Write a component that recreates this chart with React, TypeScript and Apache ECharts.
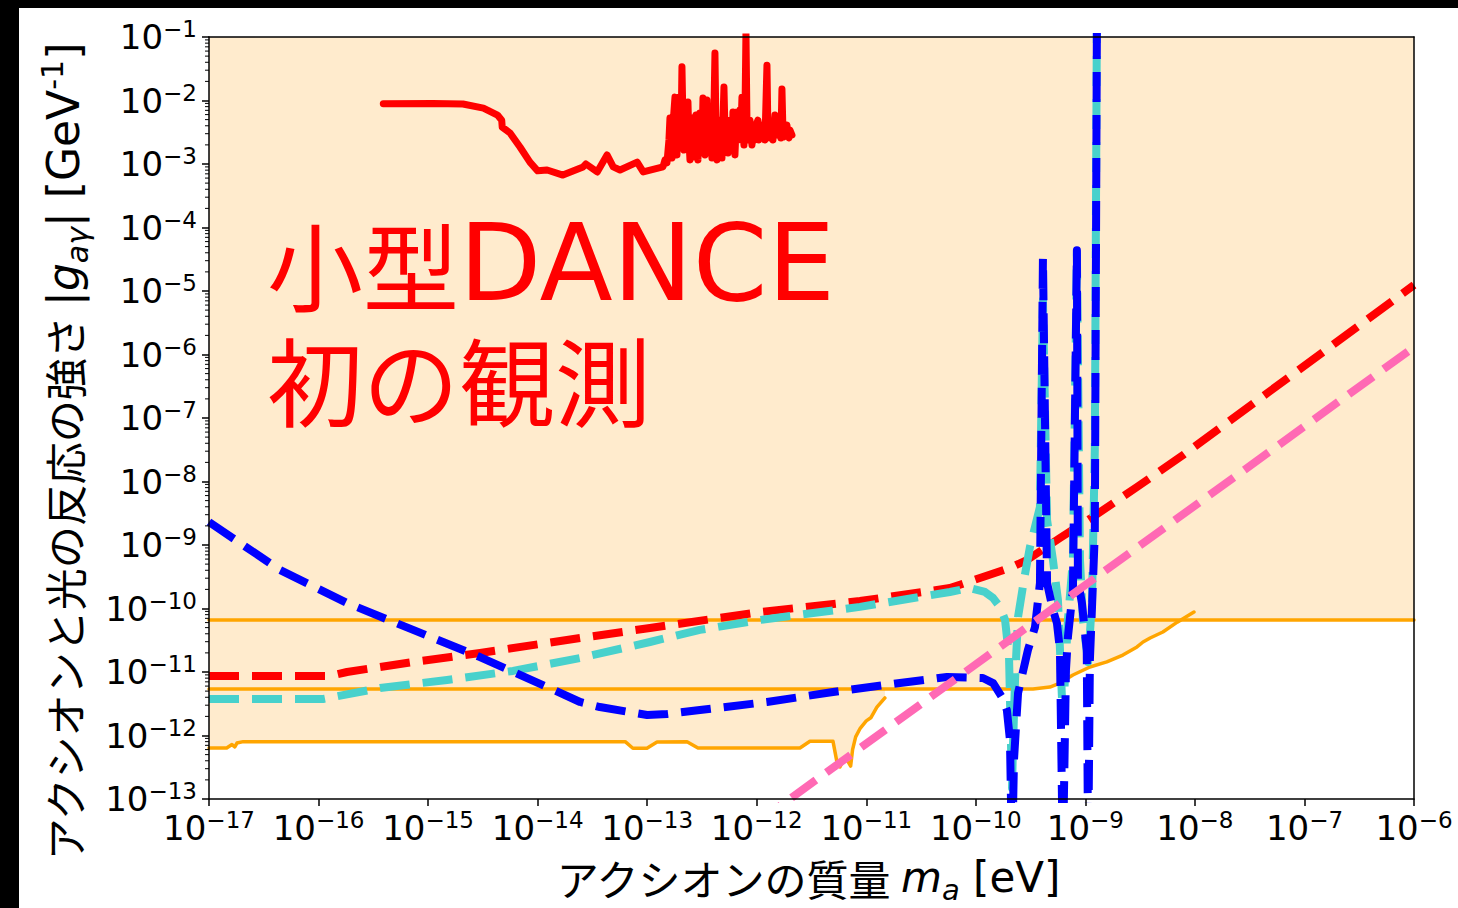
import React, { useEffect, useRef } from "react";
import * as echarts from "echarts";

const X_MIN = 1e-17;
const X_MAX = 1e-6;
const Y_MIN = 1e-13;
const Y_MAX = 1e-1;

// DANCE first observation (solid red), [mass eV, g GeV^-1]
const DANCE_RESULT: [number, number][] = [
  [3.9e-16, 8.9e-3], [1.11e-15, 9.0e-3], [2.08e-15, 8.8e-3], [3.2e-15, 7.6e-3], [4.3e-15, 5.9e-3],
  [4.7e-15, 4.9e-3], [4.75e-15, 3.8e-3], [5.6e-15, 3.08e-3], [6.9e-15, 1.85e-3], [8.5e-15, 1.07e-3],
  [1.0e-14, 7.8e-4], [1.22e-14, 8.05e-4], [1.7e-14, 6.7e-4], [2.6e-14, 9.0e-4], [2.76e-14, 1.0e-3],
  [3.5e-14, 7.5e-4], [4.3e-14, 1.39e-3], [4.9e-14, 9.0e-4], [5.65e-14, 8.05e-4], [8.1e-14, 1.07e-3],
  [9.2e-14, 7.5e-4], [1.393e-13, 9.0e-4], [1.453e-13, 1.16e-3], [1.515e-13, 1.04e-3], [1.58e-13, 2.39e-3],
  [1.614e-13, 5.3e-3], [1.648e-13, 1.66e-3], [1.683e-13, 1.24e-3], [1.719e-13, 4.1e-3], [1.793e-13, 1.13e-2],
  [1.831e-13, 2.39e-3], [1.87e-13, 1.39e-3], [1.909e-13, 4.9e-3], [1.95e-13, 1.13e-2], [1.991e-13, 3.43e-3],
  [2.034e-13, 2.39e-3], [2.077e-13, 3.4e-2], [2.121e-13, 4.9e-3], [2.166e-13, 1.66e-3], [2.212e-13, 4.1e-3],
  [2.259e-13, 7.1e-3], [2.307e-13, 3.43e-3], [2.356e-13, 9.5e-3], [2.406e-13, 2.39e-3], [2.457e-13, 1.16e-3],
  [2.51e-13, 3.43e-3], [2.563e-13, 5.3e-3], [2.617e-13, 1.29e-3], [2.673e-13, 3.43e-3], [2.73e-13, 4.9e-3],
  [2.788e-13, 5.9e-3], [2.847e-13, 1.99e-3], [2.907e-13, 1.16e-3], [2.969e-13, 3.43e-3], [3.032e-13, 6.35e-3],
  [3.097e-13, 2.39e-3], [3.162e-13, 1.66e-3], [3.23e-13, 1.09e-2], [3.298e-13, 3.43e-3], [3.368e-13, 1.39e-3],
  [3.44e-13, 4.9e-3], [3.513e-13, 1.02e-2], [3.588e-13, 2.39e-3], [3.664e-13, 4.1e-3], [3.742e-13, 7.9e-3],
  [3.821e-13, 2.39e-3], [3.902e-13, 1.24e-3], [3.985e-13, 3.43e-3], [4.07e-13, 7.1e-3], [4.156e-13, 5.6e-2],
  [4.245e-13, 3.43e-3], [4.335e-13, 1.16e-3], [4.427e-13, 2.39e-3], [4.521e-13, 4.1e-3], [4.617e-13, 4.9e-3],
  [4.715e-13, 1.99e-3], [4.815e-13, 1.24e-3], [4.918e-13, 4.9e-3], [5.022e-13, 1.63e-2], [5.129e-13, 3.43e-3],
  [5.238e-13, 1.66e-3], [5.349e-13, 2.86e-3], [5.463e-13, 1.49e-3], [5.579e-13, 3.43e-3], [5.697e-13, 4.9e-3],
  [5.818e-13, 2.39e-3], [5.942e-13, 1.66e-3], [6.068e-13, 6.6e-3], [6.197e-13, 2.86e-3], [6.328e-13, 1.39e-3],
  [6.463e-13, 3.43e-3], [6.6e-13, 6.6e-3], [6.74e-13, 2.39e-3], [6.884e-13, 4.1e-3], [7.03e-13, 7.1e-3],
  [7.179e-13, 3.43e-3], [7.332e-13, 1.13e-2], [7.488e-13, 3.43e-3], [7.645e-13, 1.99e-3], [7.808e-13, 5.9e-3],
  [7.974e-13, 0.12], [8.143e-13, 4.9e-3], [8.316e-13, 3.43e-3], [8.493e-13, 2.39e-3], [8.673e-13, 4.9e-3],
  [8.857e-13, 2.86e-3], [9.045e-13, 1.99e-3], [9.237e-13, 3.43e-3], [9.634e-13, 2.39e-3], [9.838e-13, 4.1e-3],
  [1.026e-12, 4.9e-3], [1.048e-12, 2.39e-3], [1.07e-12, 2.66e-3], [1.116e-12, 3.69e-3], [1.14e-12, 4.1e-3],
  [1.189e-12, 2.39e-3], [1.24e-12, 3.6e-2], [1.266e-12, 3.08e-3], [1.32e-12, 2.57e-3], [1.348e-12, 4.1e-3],
  [1.406e-12, 2.39e-3], [1.436e-12, 3.69e-3], [1.467e-12, 5.9e-3], [1.498e-12, 3.43e-3], [1.562e-12, 2.86e-3],
  [1.595e-12, 4.1e-3], [1.629e-12, 4.9e-3], [1.664e-12, 2.57e-3], [1.699e-12, 1.52e-2], [1.735e-12, 3.43e-3],
  [1.772e-12, 2.66e-3], [1.848e-12, 3.69e-3], [1.887e-12, 4.1e-3], [1.928e-12, 2.86e-3], [1.968e-12, 2.57e-3],
  [2.01e-12, 3.43e-3], [2.097e-12, 2.86e-3],
];

// red dashed
const RED_DASHED: [number, number][] = [
  [1e-17, 8.65e-12], [1.27e-16, 8.65e-12], [1.82e-16, 1.0e-11], [7.3e-16, 1.44e-11], [2.98e-15, 1.99e-11],
  [2.44e-14, 3.43e-11], [1.06e-13, 4.93e-11], [1.07e-12, 8.8e-11], [8.75e-12, 1.31e-10], [5.8e-11, 2.1e-10],
  [1.16e-10, 3.13e-10], [2.05e-10, 4.35e-10], [2.93e-10, 5.8e-10], [5.86e-10, 1.29e-9], [1.17e-9, 2.76e-9],
  [2.96e-9, 8.2e-9], [7.8e-9, 2.61e-8], [1e-6, 1.24e-5],
];

// turquoise dashed
const CYAN_DASHED: [number, number][] = [
  [1e-17, 3.76e-12], [1.1e-16, 3.76e-12], [3.64e-16, 5.6e-12], [1.49e-15, 7.5e-12], [5.96e-15, 1.04e-11],
  [2.44e-14, 1.66e-11], [1.06e-13, 2.97e-11], [3.03e-13, 4.6e-11], [1.07e-12, 6.6e-11], [8.75e-12, 1.06e-10],
  [5.8e-11, 1.82e-10], [8.85e-11, 2.1e-10], [1.21e-10, 1.82e-10], [1.44e-10, 1.46e-10], [1.66e-10, 1.06e-10],
  [1.85e-10, 6.6e-11], [2.01e-10, 1.72e-11], [2.1e-10, 5.9e-13], [2.14e-10, 1.49e-13], [2.18e-10, 5.9e-13],
  [2.28e-10, 7.5e-12], [2.43e-10, 7.35e-11], [2.75e-10, 2.81e-10], [3.12e-10, 9.3e-10], [3.85e-10, 3.97e-9],
  [4.1e-10, 7.2e-6], [4.47e-10, 2.48e-9], [5.06e-10, 5.8e-10], [5.62e-10, 1.36e-10], [6.23e-10, 1.75e-12],
  [6.93e-10, 6.6e-11], [7.7e-10, 5.8e-10], [8.37e-10, 3.96e-5], [8.93e-10, 5.8e-10], [9.5e-10, 6.6e-11],
  [1.06e-9, 1.44e-11], [1.15e-9, 1.36e-10], [1.22e-9, 3.13e-8], [1.28e-9, 1],
];

// blue dashed
const BLUE_DASHED: [number, number][] = [
  [1e-17, 2.3e-9], [4.45e-17, 4.04e-10], [1.82e-16, 1.22e-10], [7.3e-16, 4.6e-11], [2.98e-15, 1.72e-11],
  [1.22e-14, 5.8e-12], [2.44e-14, 3.37e-12], [3.7e-14, 2.81e-12], [1.0e-13, 2.1e-12], [1.52e-13, 2.18e-12],
  [3.03e-13, 2.52e-12], [1.24e-12, 3.37e-12], [4.97e-12, 4.84e-12], [2.03e-11, 6.7e-12], [5.46e-11, 8.35e-12],
  [1.16e-10, 8.05e-12], [1.44e-10, 6.7e-12], [1.73e-10, 4.04e-12], [1.92e-10, 2.52e-12], [2.05e-10, 8.5e-13],
  [2.14e-10, 1e-14], [2.23e-10, 4.1e-13], [2.43e-10, 4.67e-12], [2.99e-10, 2.22e-11], [3.47e-10, 5.1e-11],
  [3.85e-10, 2.52e-10], [4.1e-10, 3.3e-5], [4.47e-10, 2.52e-10], [5.06e-10, 9.5e-11], [5.5e-10, 5.9e-11],
  [5.86e-10, 2.22e-11], [6.23e-10, 1e-14], [6.65e-10, 1.07e-11], [6.93e-10, 3.56e-11], [7.7e-10, 1.95e-10],
  [8.37e-10, 4.4e-5], [8.55e-10, 2.81e-10], [9.3e-10, 1.22e-10], [1.03e-9, 2.22e-11], [1.06e-9, 1e-14],
  [1.1e-9, 1.55e-11], [1.15e-9, 1.06e-10], [1.22e-9, 1.55e-9], [1.28e-9, 1],
];

// pink dashed
const PINK_DASHED: [number, number][] = [
  [1e-12, 4.2e-14], [1e-6, 1.31e-6],
];

// orange limits
const ORANGE_TOP: [number, number][] = [
  [1e-17, 6.6e-11], [1e-6, 6.6e-11],
];
const ORANGE_MID: [number, number][] = [
  [1e-17, 5.4e-12], [3.33e-10, 5.4e-12], [4.75e-10, 5.8e-12], [5.86e-10, 6.7e-12], [7.7e-10, 8.97e-12],
  [1.1e-9, 1.2e-11], [1.57e-9, 1.44e-11], [2.2e-9, 1.85e-11], [2.96e-9, 2.48e-11], [3.36e-9, 2.97e-11],
  [3.9e-9, 3.43e-11], [5.1e-9, 4.27e-11], [6.9e-9, 6.1e-11], [9.8e-9, 8.8e-11],
];
const ORANGE_LOW: [number, number][] = [
  [1e-17, 6.35e-13], [1.45e-17, 6.35e-13], [1.62e-17, 7.2e-13], [1.72e-17, 6.6e-13], [1.8e-17, 7.6e-13],
  [2.05e-17, 8.0e-13], [6.3e-14, 8.0e-13], [7.4e-14, 6.3e-13], [9.95e-14, 6.3e-13], [1.23e-13, 7.9e-13],
  [2.31e-13, 8.0e-13], [2.91e-13, 6.35e-13], [2.48e-12, 6.35e-13], [3.06e-12, 8.1e-13], [4.97e-12, 8.1e-13],
  [5.4e-12, 3.8e-13], [5.75e-12, 3.2e-13], [6.3e-12, 4.4e-13], [6.8e-12, 3.9e-13], [7.2e-12, 3.3e-13],
  [7.5e-12, 6.0e-13], [8.0e-12, 9.5e-13], [8.8e-12, 1.3e-12], [1.0e-11, 1.7e-12], [1.1e-11, 1.9e-12],
  [1.25e-11, 2.8e-12], [1.48e-11, 3.9e-12],
];

// lower edge of the excluded (shaded) region
const EXCLUDED_EDGE: [number, number][] = [
  [1e-17, 6.35e-13], [1.45e-17, 6.35e-13], [1.62e-17, 7.2e-13], [1.72e-17, 6.6e-13], [1.8e-17, 7.6e-13],
  [2.05e-17, 8.0e-13], [6.3e-14, 8.0e-13], [7.4e-14, 6.3e-13], [9.95e-14, 6.3e-13], [1.23e-13, 7.9e-13],
  [2.31e-13, 8.0e-13], [2.91e-13, 6.35e-13], [2.48e-12, 6.35e-13], [3.06e-12, 8.1e-13], [4.97e-12, 8.1e-13],
  [5.4e-12, 3.8e-13], [5.75e-12, 3.2e-13], [6.3e-12, 4.4e-13], [6.8e-12, 3.9e-13], [7.2e-12, 3.3e-13],
  [7.5e-12, 6.0e-13], [8.0e-12, 9.5e-13], [8.8e-12, 1.3e-12], [1.0e-11, 1.7e-12], [1.1e-11, 1.9e-12],
  [1.25e-11, 2.8e-12], [1.48e-11, 3.9e-12], [1.48e-11, 5.4e-12], [3.33e-10, 5.4e-12], [4.75e-10, 5.8e-12],
  [5.86e-10, 6.7e-12], [7.7e-10, 8.97e-12], [1.1e-9, 1.2e-11], [1.57e-9, 1.44e-11], [2.2e-9, 1.85e-11],
  [2.96e-9, 2.48e-11], [3.36e-9, 2.97e-11], [3.9e-9, 3.43e-11], [5.1e-9, 4.27e-11], [6.9e-9, 6.1e-11],
  [7.3e-9, 6.6e-11], [1e-6, 6.6e-11],
];

const Y_DECADES = [-13, -12, -11, -10, -9, -8, -7, -6, -5, -4, -3, -2];
const MINOR_STEPS = [2, 3, 4, 5, 6, 7, 8, 9];

const LATIN = "'DejaVu Sans', sans-serif";
const CJK = "'Noto Sans CJK JP', sans-serif";

const DASH = [30, 13];

function powLabel(v: number) {
  const e = Math.round(Math.log10(v));
  return `{b|10}{e|${e < 0 ? "\u2212" : ""}${Math.abs(e)}}`;
}

const tickRich = {
  b: { fontFamily: LATIN, fontSize: 34, color: "#000", lineHeight: 38, verticalAlign: "middle" },
  e: { fontFamily: LATIN, fontSize: 23, color: "#000", lineHeight: 23, padding: [0, 0, 16, 0], verticalAlign: "middle" },
};

export default function App() {
  const ref = useRef<HTMLDivElement>(null);
  useEffect(() => {
    if (!ref.current) return;
    const chart = echarts.init(ref.current, null, { renderer: "svg" });
    const minorTicks: [number, number][] = [];
    Y_DECADES.forEach((d) => MINOR_STEPS.forEach((k) => minorTicks.push([X_MIN, k * Math.pow(10, d)])));

    const lineBase = (name: string, data: [number, number][], color: string, width: number, dashed: boolean, z: number) => ({
      name,
      type: "line",
      data,
      symbol: "none",
      silent: true,
      z,
      clip: true,
      lineStyle: { color, width, type: dashed ? DASH : "solid", cap: dashed ? "butt" : "round", join: "round" },
    });

    chart.setOption({
      animation: false,
      backgroundColor: "#fff",
      textStyle: { fontFamily: LATIN },
      grid: { left: 209, top: 37, right: 44, bottom: 109, containLabel: false },
      xAxis: [
        {
          type: "log", logBase: 10, min: X_MIN, max: X_MAX, splitNumber: 11, interval: 1, position: "bottom", z: 10,
          axisLine: { show: true, lineStyle: { color: "#000", width: 1.5 } },
          axisTick: { show: true, length: 7, lineStyle: { color: "#000", width: 1.5 } },
          minorTick: { show: false }, splitLine: { show: false },
          axisLabel: { margin: 10, formatter: powLabel, rich: tickRich, showMinLabel: true, showMaxLabel: true, hideOverlap: false },
        },
        {
          type: "log", logBase: 10, min: X_MIN, max: X_MAX, position: "top", z: 10,
          axisLine: { show: true, lineStyle: { color: "#000", width: 1.5 } },
          axisTick: { show: false }, axisLabel: { show: false }, splitLine: { show: false },
        },
      ],
      yAxis: [
        {
          type: "log", logBase: 10, min: Y_MIN, max: Y_MAX, splitNumber: 12, interval: 1, position: "left", z: 10,
          axisLine: { show: true, lineStyle: { color: "#000", width: 1.5 } },
          axisTick: { show: true, length: 7, lineStyle: { color: "#000", width: 1.5 } },
          minorTick: { show: false }, splitLine: { show: false },
          axisLabel: { margin: 12, formatter: powLabel, rich: tickRich, showMinLabel: true, showMaxLabel: true, hideOverlap: false },
        },
        {
          type: "log", logBase: 10, min: Y_MIN, max: Y_MAX, position: "right", z: 10,
          axisLine: { show: true, lineStyle: { color: "#000", width: 1.5 } },
          axisTick: { show: false }, axisLabel: { show: false }, splitLine: { show: false },
        },
      ],
      series: [
        {
          name: "excluded",
          type: "line",
          data: EXCLUDED_EDGE,
          symbol: "none",
          silent: true,
          z: 1,
          lineStyle: { width: 0, color: "#FFEBCD" },
          areaStyle: { color: "#FFEBCD", opacity: 1, origin: "end" },
        },
        lineBase("limit-low", ORANGE_LOW, "#FFA500", 3.5, false, 2),
        lineBase("limit-mid", ORANGE_MID, "#FFA500", 3.5, false, 2),
        lineBase("limit-top", ORANGE_TOP, "#FFA500", 3.5, false, 2),
        lineBase("red-dashed", RED_DASHED, "#FF0000", 8, true, 3),
        lineBase("cyan-dashed", CYAN_DASHED, "#48D1CC", 8, true, 4),
        lineBase("blue-dashed", BLUE_DASHED, "#0000FF", 8, true, 5),
        lineBase("pink-dashed", PINK_DASHED, "#FF69B4", 8, true, 6),
        lineBase("DANCE", DANCE_RESULT, "#FF0000", 7, false, 7),
        {
          name: "minor-ticks",
          type: "custom",
          data: minorTicks,
          silent: true,
          clip: false,
          z: 10,
          renderItem: (params: any, api: any) => {
            const p = api.coord([api.value(0), api.value(1)]);
            return {
              type: "line",
              shape: { x1: p[0] - 4, y1: p[1], x2: p[0], y2: p[1] },
              style: { stroke: "#000", lineWidth: 1 },
            };
          },
        },
      ],
      graphic: [
        { type: "rect", z: 100, shape: { x: 0, y: 0, width: 1458, height: 8 }, style: { fill: "#000" } },
        { type: "rect", z: 100, shape: { x: 0, y: 0, width: 19, height: 908 }, style: { fill: "#000" } },
        {
          type: "text", z: 100, x: 267, y: 205,
          style: {
            text: "{a|小型}{b|DANCE}\n{a|初の観測}",
            align: "left", verticalAlign: "top",
            rich: {
              a: { fontFamily: CJK, fontSize: 96, lineHeight: 115, fill: "#FF0000" },
              b: { fontFamily: LATIN, fontSize: 107, lineHeight: 115, fill: "#FF0000" },
            },
          },
        },
        {
          type: "text", z: 100, x: 808, y: 877,
          style: {
            text: "{c|アクシオンの質量 }{i|m}{s|a}{l| [eV]}",
            align: "center", verticalAlign: "middle",
            rich: {
              c: { fontFamily: CJK, fontSize: 42, lineHeight: 42, fill: "#000" },
              i: { fontFamily: LATIN, fontStyle: "italic", fontSize: 42, lineHeight: 42, fill: "#000" },
              s: { fontFamily: LATIN, fontStyle: "italic", fontSize: 29, lineHeight: 18, fill: "#000", padding: [26, 0, 0, 0] },
              l: { fontFamily: LATIN, fontSize: 42, lineHeight: 42, fill: "#000" },
            },
          },
        },
        {
          type: "text", z: 100, x: 63, y: 452, rotation: Math.PI / 2,
          style: {
            text: "{c|アクシオンと光の反応の強さ }{l||}{i|g}{s|aγ}{l||}{l| [GeV}{u|-1}{l|]}",
            align: "center", verticalAlign: "middle",
            rich: {
              c: { fontFamily: CJK, fontSize: 42, lineHeight: 44, fill: "#000" },
              i: { fontFamily: LATIN, fontStyle: "italic", fontSize: 44, lineHeight: 44, fill: "#000" },
              s: { fontFamily: LATIN, fontStyle: "italic", fontSize: 30, lineHeight: 24, fill: "#000", padding: [28, 0, 0, 0] },
              u: { fontFamily: LATIN, fontSize: 30, lineHeight: 24, fill: "#000", padding: [0, 0, 22, 0] },
              l: { fontFamily: LATIN, fontSize: 44, lineHeight: 44, fill: "#000" },
            },
          },
        },
      ],
    });
    return () => chart.dispose();
  }, []);
  return (
    <div
      ref={ref}
      style={{ position: "absolute", left: 0, top: 0, width: 1458, height: 908, background: "#fff" }}
    />
  );
}
